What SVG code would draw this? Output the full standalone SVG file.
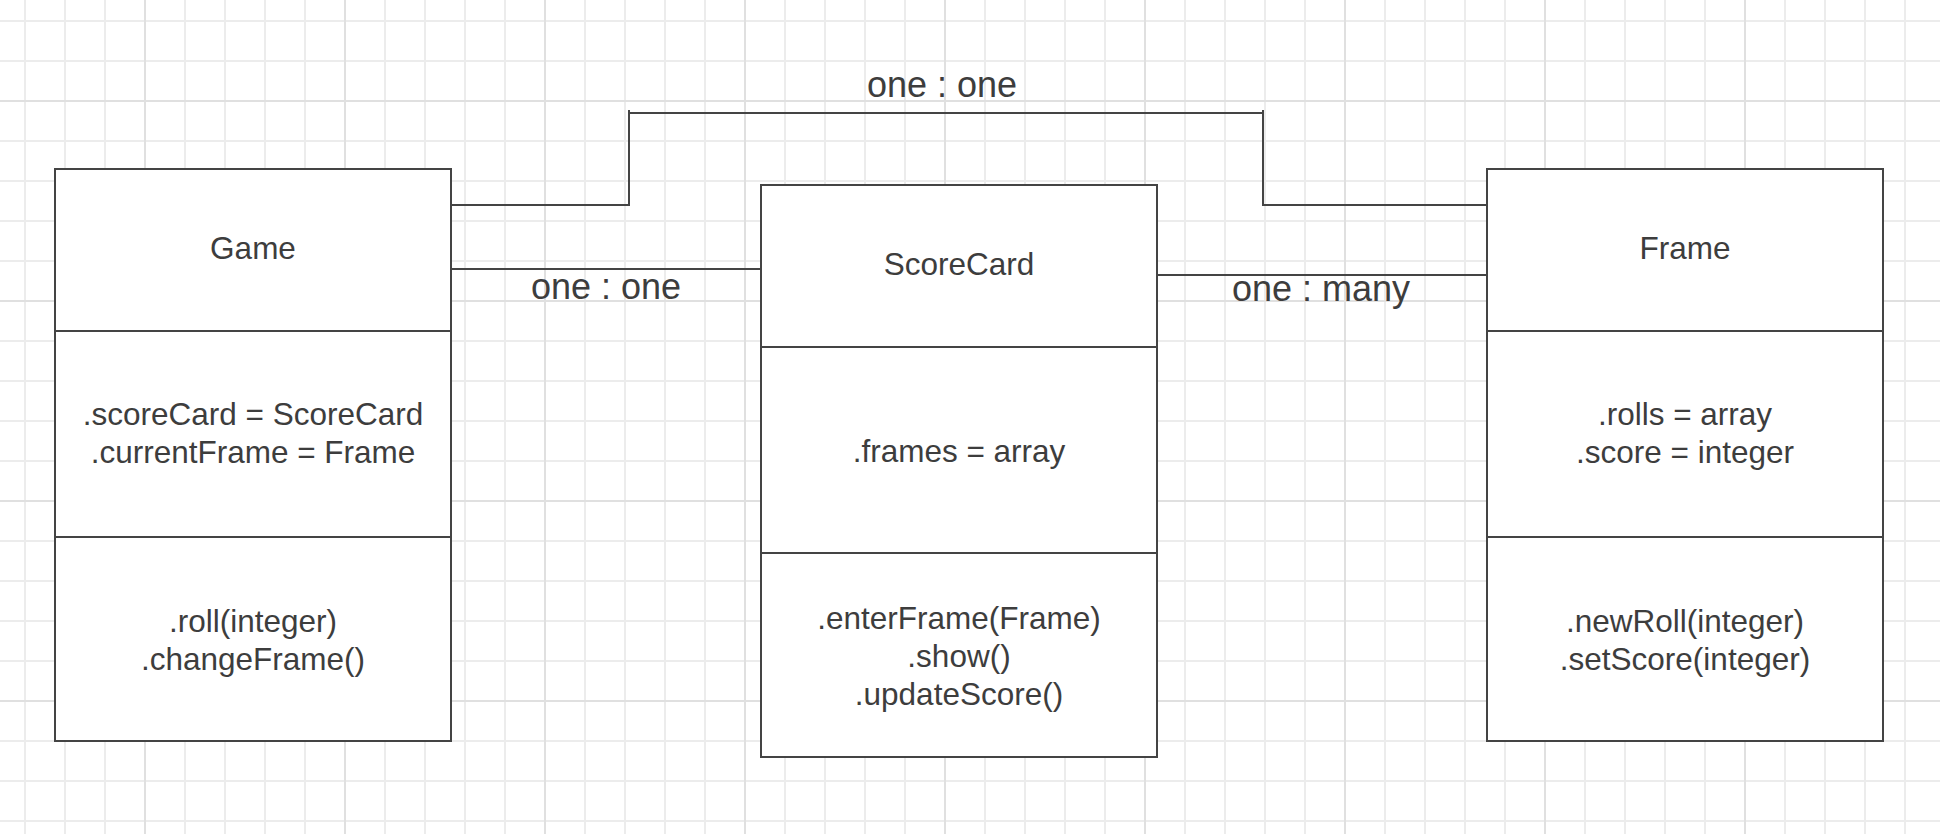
<svg xmlns="http://www.w3.org/2000/svg" width="1940" height="834" viewBox="0 0 1940 834">
  <defs>
    <pattern id="minor" patternUnits="userSpaceOnUse" x="24" y="20" width="40" height="40">
      <rect x="0" y="0" width="2" height="40" fill="#ececec"/>
      <rect x="0" y="0" width="40" height="2" fill="#ececec"/>
    </pattern>
    <pattern id="major" patternUnits="userSpaceOnUse" x="144" y="100" width="200" height="200">
      <rect x="0" y="0" width="2" height="200" fill="#e0e0e0"/>
      <rect x="0" y="0" width="200" height="2" fill="#e0e0e0"/>
    </pattern>
    <style>
      .box { fill: #ffffff; stroke: #444444; stroke-width: 2; }
      .div { stroke: #444444; stroke-width: 2; fill: none; }
      .conn { stroke: #444444; stroke-width: 2; fill: none; }
      .t { font-family: "Liberation Sans", Arial, sans-serif; font-size: 31.5px; fill: #3d3d3d; text-anchor: middle; }
      .lbl { font-family: "Liberation Sans", Arial, sans-serif; font-size: 36px; fill: #3d3d3d; text-anchor: middle; }
    </style>
  </defs>
  <rect x="0" y="0" width="1940" height="834" fill="#ffffff"/>
  <rect x="0" y="0" width="1940" height="834" fill="url(#minor)"/>
  <rect x="0" y="0" width="1940" height="834" fill="url(#major)"/>

  <g id="connectors">
    <path class="conn" d="M451 205 H629 V110 M629 113 H1263 M1263 110 V205 H1487"/>
    <path class="conn" d="M451 269 H761"/>
    <path class="conn" d="M1157 275 H1487"/>
    <text class="lbl" x="942" y="97">one : one</text>
    <text class="lbl" x="606" y="299">one : one</text>
    <text class="lbl" x="1321" y="301">one : many</text>
  </g>

  <g id="game">
    <rect class="box" x="55" y="169" width="396" height="572"/>
    <path class="div" d="M55 331 H451 M55 537 H451"/>
    <text class="t" x="253" y="259">Game</text>
    <text class="t" x="253" y="425">.scoreCard = ScoreCard</text>
    <text class="t" x="253" y="463">.currentFrame = Frame</text>
    <text class="t" x="253" y="632">.roll(integer)</text>
    <text class="t" x="253" y="670">.changeFrame()</text>
  </g>

  <g id="scorecard">
    <rect class="box" x="761" y="185" width="396" height="572"/>
    <path class="div" d="M761 347 H1157 M761 553 H1157"/>
    <text class="t" x="959" y="275">ScoreCard</text>
    <text class="t" x="959" y="462">.frames = array</text>
    <text class="t" x="959" y="629">.enterFrame(Frame)</text>
    <text class="t" x="959" y="667">.show()</text>
    <text class="t" x="959" y="705">.updateScore()</text>
  </g>

  <g id="frame">
    <rect class="box" x="1487" y="169" width="396" height="572"/>
    <path class="div" d="M1487 331 H1883 M1487 537 H1883"/>
    <text class="t" x="1685" y="259">Frame</text>
    <text class="t" x="1685" y="425">.rolls = array</text>
    <text class="t" x="1685" y="463">.score = integer</text>
    <text class="t" x="1685" y="632">.newRoll(integer)</text>
    <text class="t" x="1685" y="670">.setScore(integer)</text>
  </g>
</svg>
